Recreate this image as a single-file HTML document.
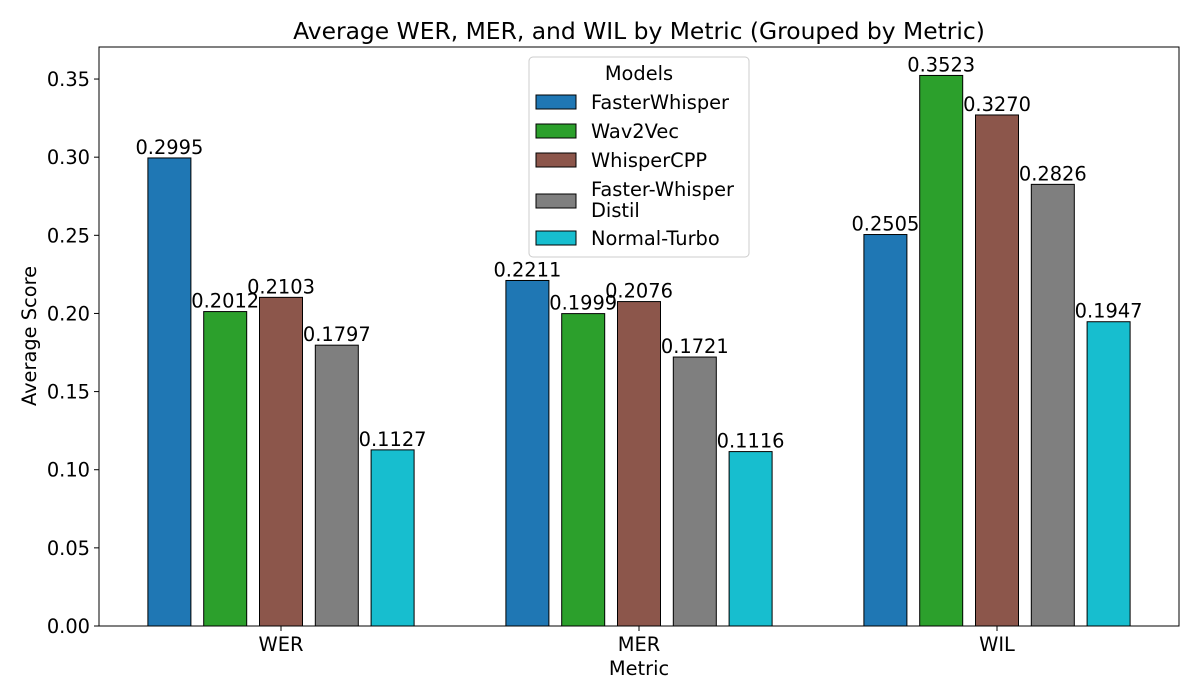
<!DOCTYPE html>
<html><head><meta charset="utf-8"><style>
html,body{margin:0;padding:0;background:#fff;}
svg{display:block;font-family:"DejaVu Sans","Liberation Sans",sans-serif;}
</style></head><body>
<svg id="chart" width="1200" height="700" xmlns="http://www.w3.org/2000/svg">
<rect width="1200" height="700" fill="#fff"/>
<text x="639" y="39" font-size="23.4" text-anchor="middle" fill="#000">Average WER, MER, and WIL by Metric (Grouped by Metric)</text>
<g id="bars"></g>
<g id="axes"></g>
<text x="639" y="675" font-size="19.4" text-anchor="middle">Metric</text>
<text transform="translate(36,336) rotate(-90)" font-size="19.4" text-anchor="middle">Average Score</text>
<g id="legend"></g>
</svg>
<script>
const categories = ["WER","MER","WIL"];
const models = ["FasterWhisper","Wav2Vec","WhisperCPP","Faster-Whisper Distil","Normal-Turbo"];
const colors = ["#1f77b4","#2ca02c","#8c564b","#7f7f7f","#17becf"];
const fasterWhisper = [0.2995,0.2211,0.2505];
const wav2vec = [0.2012,0.1999,0.3523];
const whisperCPP = [0.2103,0.2076,0.3270];
const distil = [0.1797,0.1721,0.2826];
const turbo = [0.1127,0.1116,0.1947];
const yTicks = [0,0.05,0.10,0.15,0.20,0.25,0.30,0.35];
const series = [fasterWhisper,wav2vec,whisperCPP,distil,turbo];

const L=99,R=1179,T=47,B=626,yMax=0.3705;
const y = v => B - v/yMax*(B-T);
const x = i => 281 + i*358;
const NS="http://www.w3.org/2000/svg";
const mk=(tag,attrs,parent)=>{const e=document.createElementNS(NS,tag);for(const k in attrs)e.setAttribute(k,attrs[k]);parent.appendChild(e);return e;};
const bars=document.getElementById('bars'), axes=document.getElementById('axes'), leg=document.getElementById('legend');
const step=55.8, bw=43;
series.forEach((vals,s)=>{
  vals.forEach((v,i)=>{
    const cx = x(i) + (s-2)*step;
    const r=mk('rect',{x:cx-bw/2,y:y(v),width:bw,height:B-y(v),fill:colors[s],stroke:'#000','stroke-width':1},bars);
    
    
    const t=mk('text',{x:cx,y:y(v)-4,'font-size':19.4,'text-anchor':'middle'},bars);
    t.textContent=v.toFixed(4);
    
    
  });
});
const frame=mk('rect',{x:L,y:T,width:R-L,height:B-T,fill:'none',stroke:'#000','stroke-width':1},axes);


yTicks.forEach(v=>{
  mk('line',{x1:L-5,x2:L,y1:y(v),y2:y(v),stroke:'#000'},axes);
  const t=mk('text',{x:L-9,y:y(v)+7,'font-size':19.4,'text-anchor':'end'},axes);
  t.textContent=v.toFixed(2);
  
  
});
categories.forEach((c,i)=>{
  mk('line',{x1:x(i),x2:x(i),y1:B,y2:B+5,stroke:'#000'},axes);
  const t=mk('text',{x:x(i),y:B+25,'font-size':19.4,'text-anchor':'middle'},axes);
  t.textContent=c;
  
  
});
mk('rect',{x:529,y:57,width:220,height:200,rx:4,fill:'#fff','fill-opacity':0.8,stroke:'#ccc'},leg);
const lt=mk('text',{x:639,y:80,'font-size':19.4,'text-anchor':'middle'},leg);
lt.textContent='Models';


const rowsY=[102,131,160,201,238];
models.forEach((m,s)=>{
  const g=mk('g',{},leg);
  
  
  mk('rect',{x:536,y:rowsY[s]-7,width:40,height:14,fill:colors[s],stroke:'#000'},g);
  if(m==="Faster-Whisper Distil"){
    const a=mk('text',{x:591,y:rowsY[s]-5,'font-size':19.4},g);a.textContent='Faster-Whisper';
    const b=mk('text',{x:591,y:rowsY[s]+16,'font-size':19.4},g);b.textContent='Distil';
  } else {
    const t=mk('text',{x:591,y:rowsY[s]+7,'font-size':19.4},g);t.textContent=m;
  }
});
</script>
</body></html>
